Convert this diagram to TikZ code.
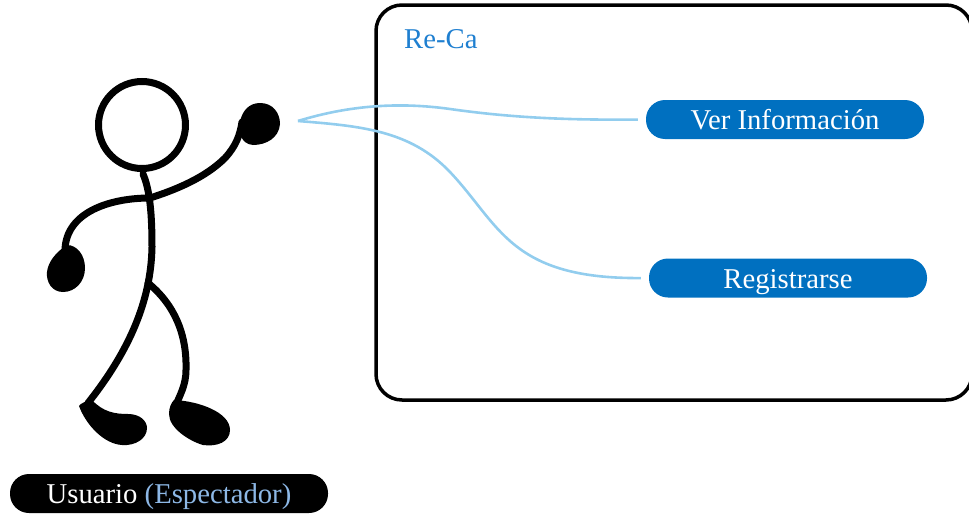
\documentclass[tikz,border=0pt]{standalone}
\usepackage{fontspec}
\setmainfont{Liberation Serif}
\definecolor{pillblue}{HTML}{0070C0}
\definecolor{linkblue}{HTML}{92CDEE}
\definecolor{titleblue}{HTML}{1F7FD0}
\definecolor{softblue}{HTML}{8DB8E6}
\tikzset{
  limb/.style={line width=7pt,line cap=round,line join=round},
  blob/.style={fill=black,draw=none},
  pilltext/.style={font=\fontsize{28.7}{32}\selectfont},
  pill/.style={pilltext,rounded corners=19pt,fill=pillblue,minimum height=39pt,inner sep=0pt,text=white,text height=22pt,text depth=2pt},
  link/.style={linkblue,line width=2.6pt}
}
\begin{document}
\begin{tikzpicture}[x=1pt,y=-1pt]
\useasboundingbox (0,0) rectangle (969,514);
\begin{scope}
\clip (0,0) rectangle (969,514);
\node[draw=black,line width=3.5pt,rounded corners=26pt,minimum width=596pt,minimum height=395pt,inner sep=0pt,outer sep=0pt] (frame) at (674,202.5) {};
\end{scope}
\node[pilltext,anchor=base west,text=titleblue,inner sep=0pt] (title) at (404,48) {Re-Ca};
\node[pill,minimum width=278pt] (ver) at (785,119.5) {Ver Información};
\node[pill,minimum width=278pt] (reg) at (788,278) {Registrarse};
\node[pill,fill=black,minimum width=318pt] (user) at (169,493.5) {Usuario \textcolor{softblue}{(Espectador)}};
\coordinate (hand) at (298,121);
\draw[link,shorten >=8pt] (hand) .. controls (350,105) and (400,102) .. (450,109) .. controls (520,119) and (580,120) .. (ver.west);
\draw[link,shorten >=8pt] (hand) .. controls (360,126) and (410,130) .. (450,172) .. controls (500,225) and (510,279) .. (reg.west);
% stick figure
\node[circle,draw=black,line width=7pt,minimum size=87pt,inner sep=0pt] (head) at (142,125) {};
\draw[limb] (head.south) ++(1,2) .. controls (150,190) and (152,215) .. (152,247) .. controls (151,300) and (130,350) .. (88,403);
\draw[limb] (150,198) .. controls (175,190) and (205,178) .. (225,158) .. controls (236,146) and (240,135) .. (242,122);
\draw[limb] (150,198) .. controls (110,198) and (66,212) .. (65,250);
\draw[limb] (148,283) .. controls (175,305) and (187,335) .. (186,370) .. controls (186,385) and (180,395) .. (175,407);
\fill[blob] (260,103) .. controls (273,103) and (280,113) .. (280,124) .. controls (279,138) and (266,145) .. (253,145) .. controls (241,144) and (238,132) .. (240,122) .. controls (242,111) and (249,103) .. (260,103) -- cycle;
\fill[blob] (67,245) .. controls (77,245) and (85,255) .. (85,268) .. controls (85,282) and (75,292) .. (63,292) .. controls (52,292) and (46,282) .. (47,272) .. controls (48,262) and (56,252) .. (67,245) -- cycle;
\fill[blob] (79,406) .. controls (81,403) and (86,401) .. (92,400) .. controls (103,412) and (115,414) .. (128,414) .. controls (140,414) and (147,421) .. (147,428) .. controls (147,439) and (135,446) .. (122,445) .. controls (104,444) and (86,425) .. (79,406) -- cycle;
\fill[blob] (174,400) .. controls (198,401) and (230,412) .. (230,430) .. controls (230,442) and (217,447) .. (203,445) .. controls (189,441) and (169,428) .. (169,414) .. controls (169,408) and (171,403) .. (174,400) -- cycle;
\end{tikzpicture}
\end{document}
